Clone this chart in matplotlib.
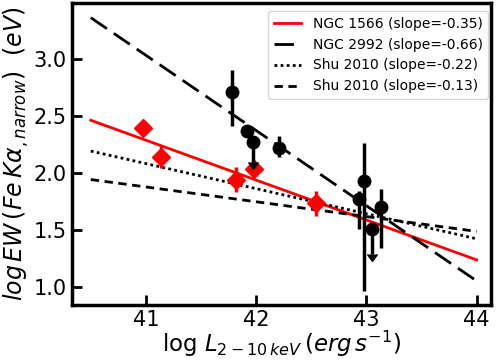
import matplotlib
matplotlib.use('Agg')
import matplotlib.pyplot as plt
import numpy as np

# NGC 2992 (black circles)
x_2992 = [41.78, 41.92, 42.21, 42.93, 42.98, 43.13]
y_2992 = [2.71, 2.37, 2.22, 1.77, 1.93, 1.70]
yerr_lo_2992 = [0.30, 0.0, 0.08, 0.26, 0.97, 0.36]
yerr_hi_2992 = [0.19, 0.0, 0.10, 0.07, 0.33, 0.16]

# NGC 2992 upper limits
x_2992_ul = [41.97, 43.05]
y_2992_ul = [2.27, 1.51]
len_2992_ul = [0.18, 0.22]

# NGC 1566 (red diamonds)
x_1566 = [40.97, 41.14, 41.82, 41.98, 42.54]
y_1566 = [2.39, 2.14, 1.94, 2.03, 1.73]
yerr_1566 = [0.04, 0.10, 0.11, 0.05, 0.11]

# fitted lines: value at x=40.5 and slope
fit_x = [40.5, 44.0]
fit_names = ['NGC 1566 (slope=-0.35)', 'NGC 2992 (slope=-0.66)',
             'Shu 2010 (slope=-0.22)', 'Shu 2010 (slope=-0.13)']
fit_y0 = [2.46, 3.36, 2.19, 1.94]
fit_slope = [-0.35, -0.66, -0.22, -0.13]

fig = plt.figure(figsize=(4.97, 3.6), dpi=100)
ax = fig.add_axes([0.145, 0.153, 0.843, 0.839])

xx = np.array(fit_x)
styles = [dict(color='red', ls='-'),
          dict(color='black', ls=(0, (7, 3))),
          dict(color='black', ls=(0, (1, 1.2))),
          dict(color='black', ls=(0, (3, 2)))]
for name, y0, s, st in zip(fit_names, fit_y0, fit_slope, styles):
    ax.plot(xx, y0 + s * (xx - fit_x[0]), lw=2, label=name, **st)

ax.errorbar(x_1566, y_1566, yerr=yerr_1566, fmt='D', color='red',
            ms=9, elinewidth=2.5, capsize=0, zorder=5)
ax.errorbar(x_2992, y_2992, yerr=[yerr_lo_2992, yerr_hi_2992], fmt='o',
            color='black', ms=9, elinewidth=2.5, capsize=0, zorder=6)
ax.errorbar(x_2992_ul, y_2992_ul, yerr=len_2992_ul, uplims=True, fmt='o',
            color='black', ms=9, elinewidth=2.5, capsize=3.5, zorder=7)

ax.set_xlim(40.33, 44.13)
ax.set_ylim(0.84, 3.49)
ax.set_xticks([41, 42, 43, 44])
ax.set_yticks([1.0, 1.5, 2.0, 2.5, 3.0])
ax.tick_params(direction='in', length=7, width=2, labelsize=15, pad=4)
for sp in ax.spines.values():
    sp.set_linewidth(2.5)

ax.set_xlabel(r'log $L_{2-10\,keV}\,(erg\,s^{-1})$', fontsize=16.5,
              labelpad=-1)
ax.set_ylabel(r'$log\,EW\,(Fe\,K\alpha_{,narrow})$  $(eV)$', fontsize=17,
              labelpad=2)

ax.legend(loc='upper right', fontsize=10, handlelength=2,
          borderaxespad=0.15, bbox_to_anchor=(0.998, 0.98))

plt.savefig('out.png', dpi=100)
